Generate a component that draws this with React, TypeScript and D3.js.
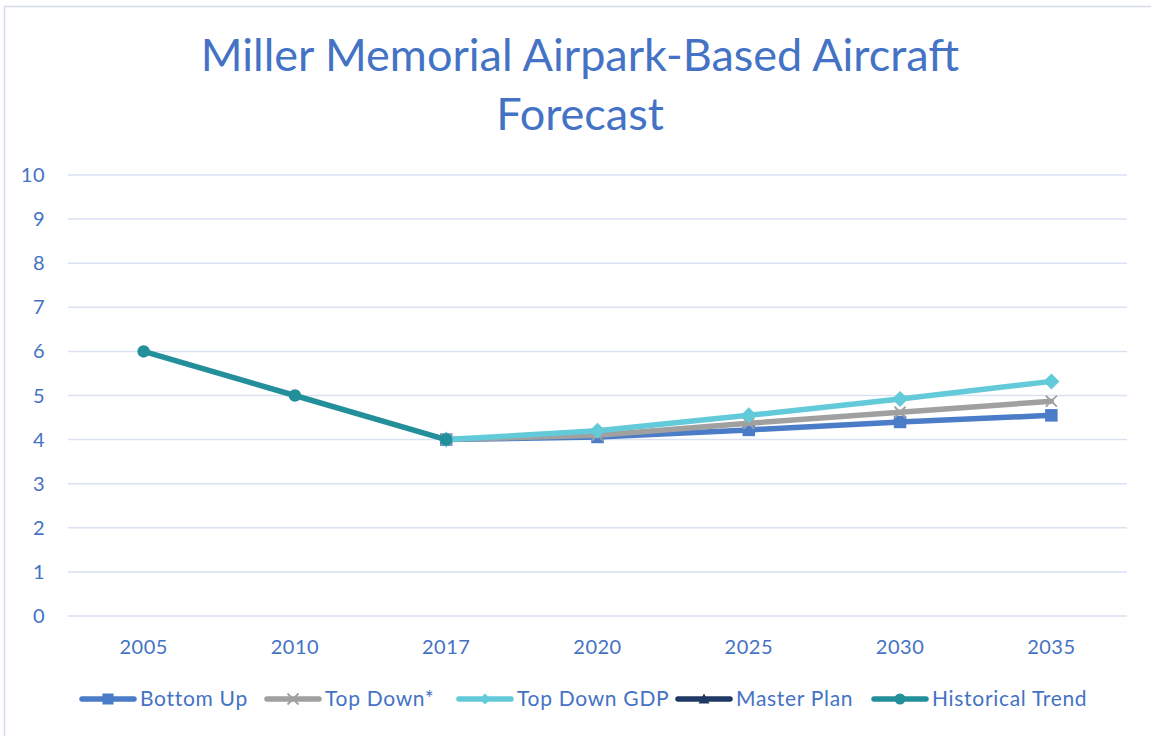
import * as d3 from "d3";
import React, { useRef, useEffect } from "react";

const years = ["2005", "2010", "2017", "2020", "2025", "2030", "2035"];
const bottomUp = [null, null, 4, 4.06, 4.22, 4.4, 4.55];
const topDown = [null, null, 4, 4.1, 4.37, 4.62, 4.87];
const topDownGdp = [null, null, 4, 4.2, 4.55, 4.92, 5.32];
const masterPlan = [null, null, null, null, null, null, null];
const historical = [6, 5, 4, null, null, null, null];
const yTicks = [0, 1, 2, 3, 4, 5, 6, 7, 8, 9, 10];

const seriesList = [
  { name: "Bottom Up", values: bottomUp, color: "#4a7cc7", marker: "square" },
  { name: "Top Down*", values: topDown, color: "#a0a0a0", marker: "x" },
  { name: "Top Down GDP", values: topDownGdp, color: "#62cad9", marker: "diamond" },
  { name: "Master Plan", values: masterPlan, color: "#1f3864", marker: "triangle" },
  { name: "Historical Trend", values: historical, color: "#238f9b", marker: "circle" },
];

const W = 1151;
const H = 736;
const FONT = "Lato, 'Open Sans', sans-serif";
const TEXT = "#4472c4";

function drawMarker(g, type, x, y, color, size) {
  const s = size / 2;
  if (type === "square") {
    g.append("rect").attr("x", x - s).attr("y", y - s)
      .attr("width", size).attr("height", size).attr("fill", color);
  } else if (type === "x") {
    g.append("path").attr("d", `M${x - s},${y - s}L${x + s},${y + s}M${x - s},${y + s}L${x + s},${y - s}`)
      .attr("stroke", color).attr("stroke-width", 1.8).attr("fill", "none");
  } else if (type === "diamond") {
    g.append("path").attr("d", `M${x},${y - s}L${x + s},${y}L${x},${y + s}L${x - s},${y}Z`)
      .attr("fill", color);
  } else if (type === "triangle") {
    g.append("path").attr("d", `M${x},${y - s}L${x + s},${y + s * 0.8}L${x - s},${y + s * 0.8}Z`)
      .attr("fill", color);
  } else {
    g.append("circle").attr("cx", x).attr("cy", y).attr("r", s).attr("fill", color);
  }
}

function Chart() {
  const ref = useRef(null);

  useEffect(() => {
    const svg = d3.select(ref.current);
    svg.selectAll("*").remove();

    const left = 68, right = 1127, top = 175, bottom = 616;

    const x = d3.scaleBand().domain(years).range([left, right]);
    const y = d3.scaleLinear().domain([0, 10]).range([bottom, top]);

    // chart border
    svg.append("path").attr("d", `M4.5,${H}V6.5H${W}`)
      .attr("fill", "none").attr("stroke", "#d6dcea").attr("stroke-width", 1.5);

    // title
    const title = svg.append("text").attr("text-anchor", "middle")
      .attr("font-family", FONT).attr("font-size", 45).attr("fill", TEXT);
    title.append("tspan").attr("x", 580).attr("y", 71).text("Miller Memorial Airpark-Based Aircraft");
    title.append("tspan").attr("x", 580).attr("y", 130).text("Forecast");

    // gridlines
    svg.append("g").selectAll("line").data(yTicks).join("line")
      .attr("x1", left).attr("x2", right)
      .attr("y1", (d) => y(d)).attr("y2", (d) => y(d))
      .attr("stroke", "#d9e1f2").attr("stroke-width", 1.5);

    // y labels
    svg.append("g").selectAll("text").data(yTicks).join("text")
      .attr("x", 45).attr("y", (d) => y(d)).attr("dy", "0.35em")
      .attr("text-anchor", "end").attr("font-family", FONT).attr("font-size", 20)
      .attr("letter-spacing", 0.5).attr("fill", TEXT).text((d) => d);

    // x labels
    svg.append("g").selectAll("text").data(years).join("text")
      .attr("x", (d) => x(d) + x.bandwidth() / 2).attr("y", 654)
      .attr("text-anchor", "middle").attr("font-family", FONT).attr("font-size", 20)
      .attr("letter-spacing", 0.5).attr("fill", TEXT).text((d) => d);

    const line = d3.line()
      .defined((d) => d.v != null)
      .x((d) => x(d.year) + x.bandwidth() / 2)
      .y((d) => y(d.v));

    seriesList.forEach((s) => {
      const pts = years.map((year, i) => ({ year, v: s.values[i] }));
      const g = svg.append("g");
      g.append("path").datum(pts).attr("d", line)
        .attr("fill", "none").attr("stroke", s.color).attr("stroke-width", 5.5)
        .attr("stroke-linejoin", "round").attr("stroke-linecap", "round");
      const size = s.marker === "diamond" ? 16 : s.marker === "x" ? 11 : 12.5;
      pts.filter((p) => p.v != null).forEach((p) => {
        drawMarker(g, s.marker, x(p.year) + x.bandwidth() / 2, y(p.v), s.color, size);
      });
    });

    // legend
    const legendX = [82, 267, 459, 678, 874];
    seriesList.forEach((s, i) => {
      const lx = legendX[i];
      const ly = 699;
      const g = svg.append("g");
      g.append("line").attr("x1", lx).attr("x2", lx + 52).attr("y1", ly).attr("y2", ly)
        .attr("stroke", s.color).attr("stroke-width", 5.5).attr("stroke-linecap", "round");
      drawMarker(g, s.marker, lx + 26, ly, s.color, 11);
      g.append("text").attr("x", lx + 58).attr("y", ly).attr("dy", "0.35em")
        .attr("font-family", FONT).attr("font-size", 21).attr("letter-spacing", 0.7)
        .attr("fill", TEXT).text(s.name);
    });
  }, []);

  return (
    <svg ref={ref} width={W} height={H}
      style={{ position: "absolute", left: 0, top: 0, background: "#fff" }} />
  );
}

export default function App() {
  return <Chart />;
}
